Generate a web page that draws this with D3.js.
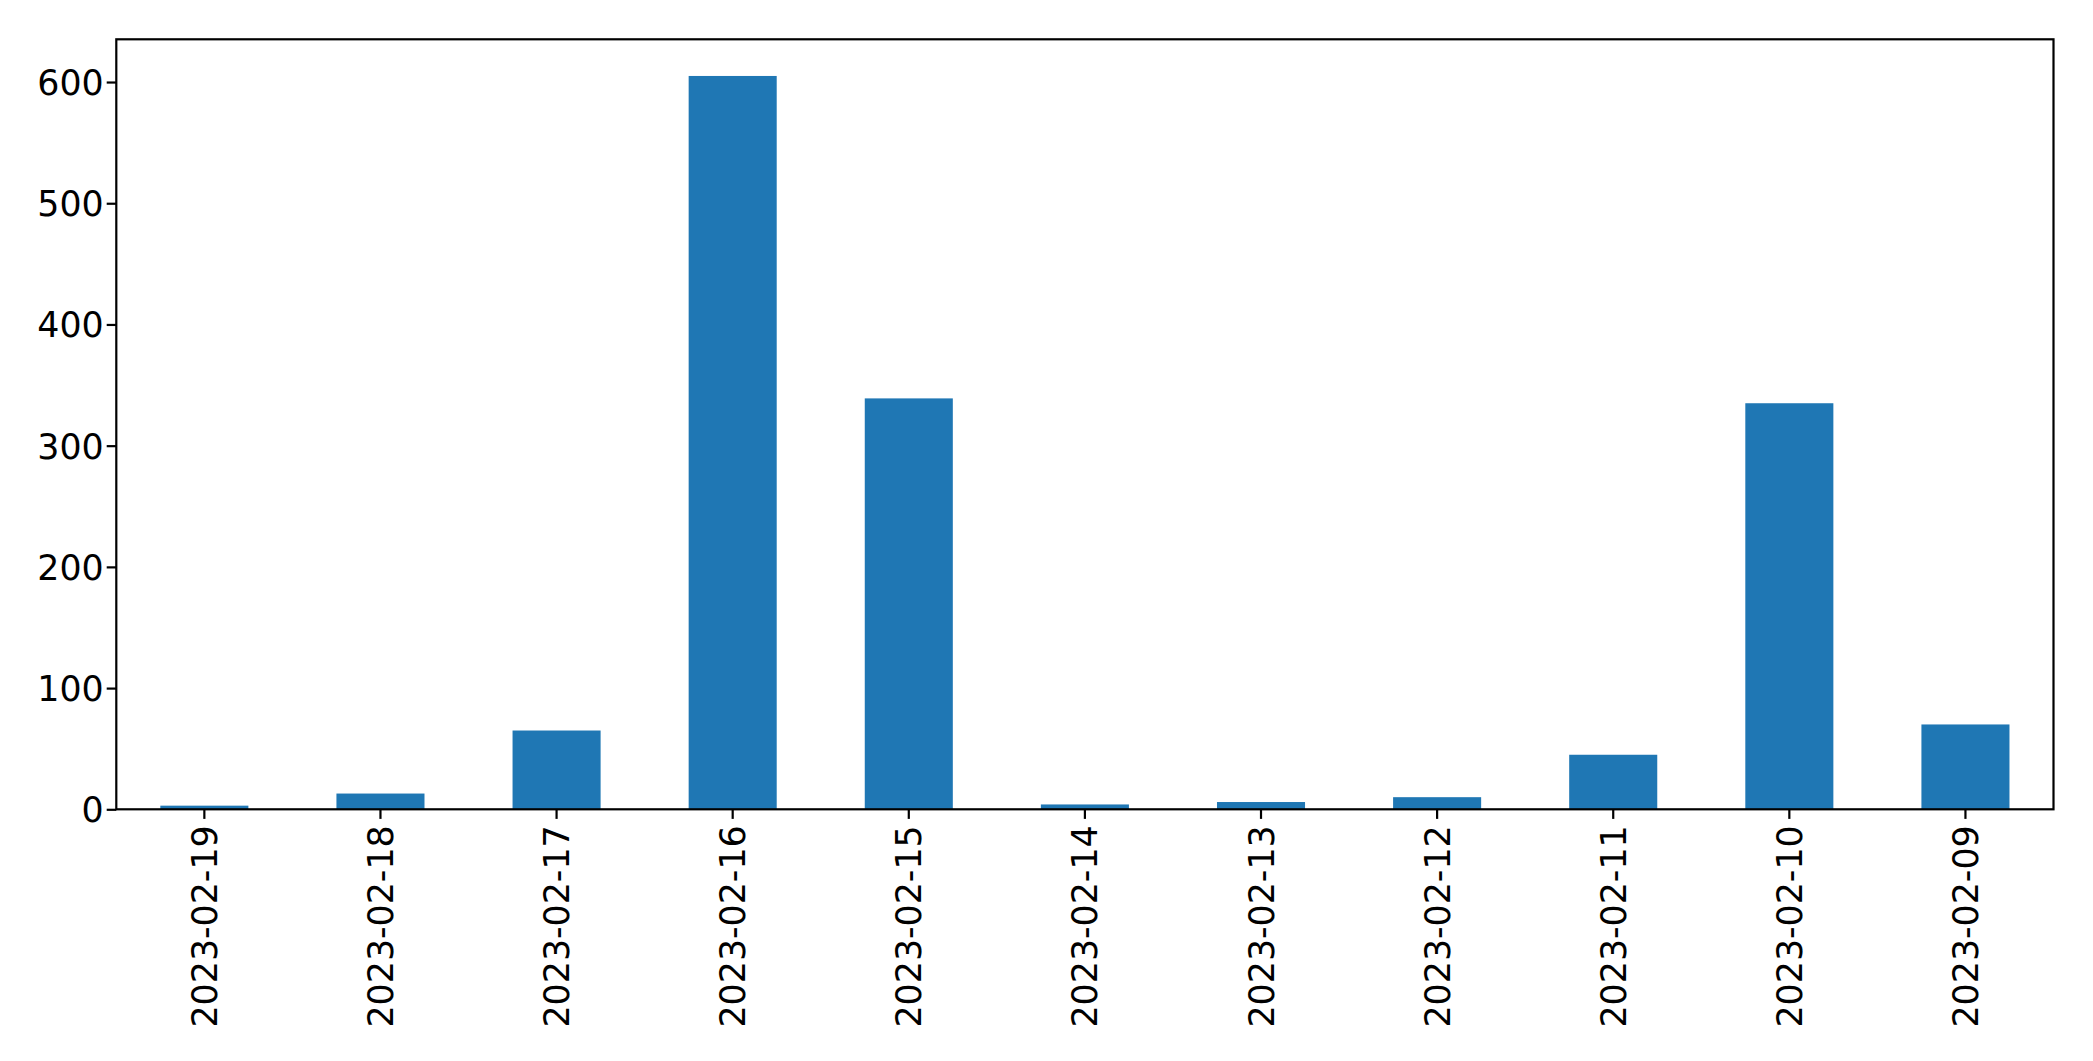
<!DOCTYPE html>
<html>
<head>
<meta charset="utf-8">
<script src="https://cdn.jsdelivr.net/npm/d3@7"></script>
<style>
  html, body { margin: 0; padding: 0; background: #fff; }
  svg { display: block; }
  text { font-family: "DejaVu Sans", sans-serif; fill: #000; }
</style>
</head>
<body>
<svg id="chart" width="2093" height="1061"></svg>
<script>
const categories = ["2023-02-19","2023-02-18","2023-02-17","2023-02-16","2023-02-15","2023-02-14","2023-02-13","2023-02-12","2023-02-11","2023-02-10","2023-02-09"];
const values = [3, 13, 65, 605, 339, 4, 6, 10, 45, 335, 70];
const yTicks = [0, 100, 200, 300, 400, 500, 600];

const W = 2093, H = 1061;
const plot = { left: 116.3, right: 2053.5, top: 39.3, bottom: 809.3 };
const fontSize = 34.8;
const tickLen = 9.6;
const lw = 2.2;

const svg = d3.select("#chart");

const x = d3.scaleBand()
  .domain(categories)
  .range([plot.left, plot.right])
  .paddingInner(0.5)
  .paddingOuter(0.25);

const yMax = d3.max(values) * 1.05;
const y = d3.scaleLinear().domain([0, yMax]).range([plot.bottom, plot.top]);

// bars
svg.append("g").selectAll("rect")
  .data(values)
  .join("rect")
  .attr("x", (d, i) => x(categories[i]))
  .attr("width", x.bandwidth())
  .attr("y", d => y(d))
  .attr("height", d => y(0) - y(d))
  .attr("fill", "#1f77b4");

// frame
svg.append("rect")
  .attr("x", plot.left).attr("y", plot.top)
  .attr("width", plot.right - plot.left).attr("height", plot.bottom - plot.top)
  .attr("fill", "none").attr("stroke", "#000").attr("stroke-width", lw);

// y axis
const yAxis = d3.axisLeft(y).tickValues(yTicks).tickSize(tickLen).tickPadding(3).tickFormat(d3.format("d"));
const gy = svg.append("g").attr("transform", `translate(${plot.left},0)`).call(yAxis);
gy.select(".domain").remove();
gy.selectAll(".tick line").attr("stroke", "#000").attr("stroke-width", lw);
gy.selectAll(".tick text")
  .attr("font-size", fontSize)
  .attr("font-family", "DejaVu Sans")
  .attr("fill", "#000")
  .attr("dy", "0.36em");

// x axis
const xAxis = d3.axisBottom(x).tickSize(tickLen).tickPadding(0);
const gx = svg.append("g").attr("transform", `translate(0,${plot.bottom})`).call(xAxis);
gx.select(".domain").remove();
gx.selectAll(".tick line").attr("stroke", "#000").attr("stroke-width", lw);
gx.selectAll(".tick text")
  .attr("font-size", fontSize)
  .attr("font-family", "DejaVu Sans")
  .attr("fill", "#000")
  .attr("text-anchor", "end")
  .attr("transform", "translate(0,16) rotate(-90)")
  .attr("x", 0)
  .attr("y", 0)
  .attr("dy", "0.36em");
</script>
</body>
</html>
